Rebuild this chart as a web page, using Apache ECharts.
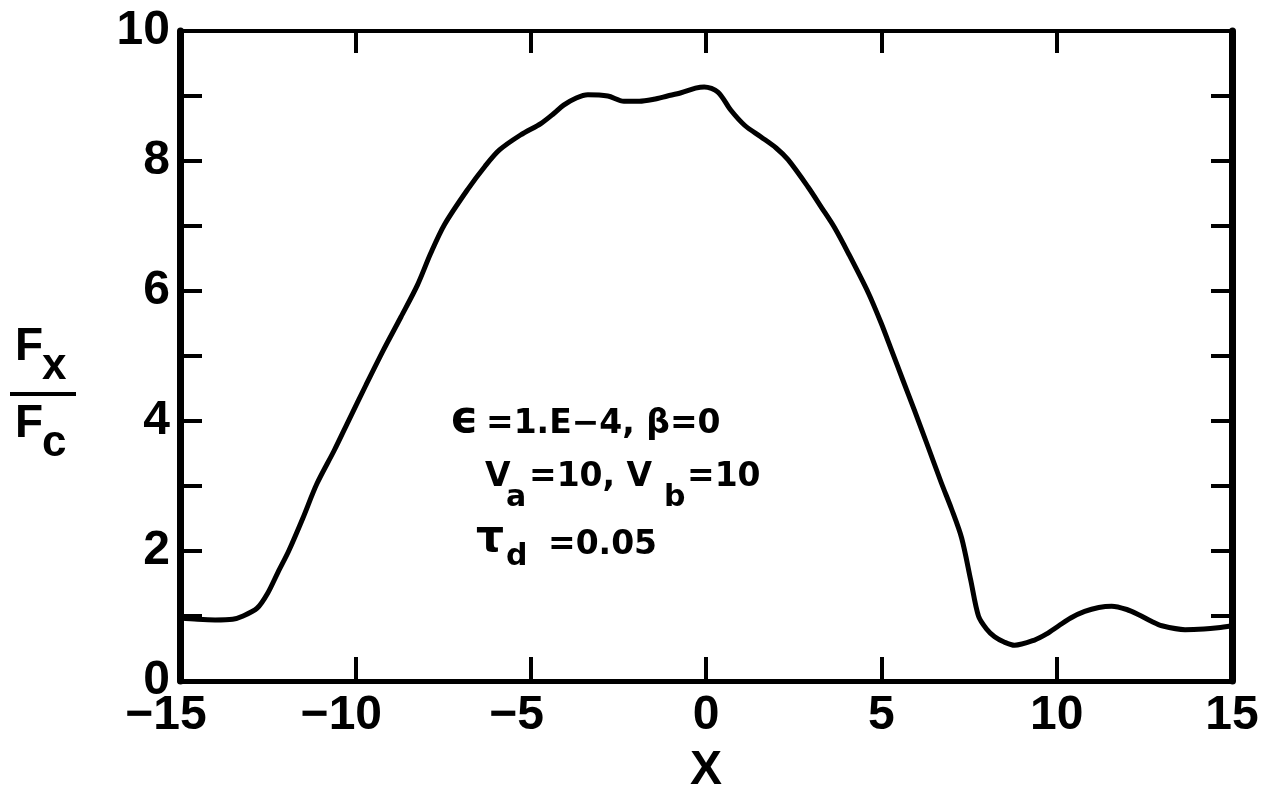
<!DOCTYPE html>
<html>
<head>
<meta charset="utf-8">
<script src="https://cdn.jsdelivr.net/npm/echarts@6/dist/echarts.min.js"></script>
<style>
html,body{margin:0;padding:0;background:#fff;}
#chart{width:1265px;height:798px;}
</style>
</head>
<body>
<div id="chart"></div>
<script>
// ---- data ----
const xValues = [-15, -14.5, -14, -13.5, -13.2, -12.8, -12.5, -12.2, -11.9, -11.5, -11.1, -10.6, -10.17, -9.7, -9.2, -8.7, -8.23, -7.85, -7.46, -6.8, -6.3, -5.89, -5.29, -4.7, -4.34, -4.06, -3.7, -3.37, -2.8, -2.34, -1.9, -1.49, -1.1, -0.71, -0.3, -0.05, 0.34, 0.71, 1.1, 1.57, 2.0, 2.34, 2.91, 3.3, 3.66, 4.06, 4.63, 5.0, 5.29, 5.6, 5.94, 6.3, 6.71, 7.0, 7.29, 7.55, 7.77, 8.0, 8.23, 8.5, 8.8, 9.37, 9.7, 10.06, 10.4, 10.8, 11.2, 11.57, 12.0, 12.34, 12.7, 13.0, 13.66, 14.2, 14.6, 15];
const fValues = [0.97, 0.95, 0.94, 0.95, 1.0, 1.12, 1.35, 1.68, 2.0, 2.5, 3.03, 3.55, 4.03, 4.55, 5.09, 5.6, 6.09, 6.58, 7.02, 7.56, 7.92, 8.17, 8.4, 8.58, 8.73, 8.86, 8.97, 9.02, 9.0, 8.92, 8.92, 8.95, 9.0, 9.05, 9.12, 9.14, 9.06, 8.78, 8.55, 8.37, 8.2, 8.02, 7.6, 7.28, 6.98, 6.58, 5.97, 5.5, 5.09, 4.65, 4.17, 3.65, 3.05, 2.65, 2.2, 1.55, 1.0, 0.8, 0.68, 0.6, 0.55, 0.63, 0.72, 0.85, 0.97, 1.07, 1.13, 1.15, 1.1, 1.02, 0.92, 0.85, 0.79, 0.8, 0.82, 0.85];
const xRange = [-15, 15];
const xTickStep = 5;
const yRange = [0, 10];
const yTickStep = 1;
const yLabelEvery = 2;
const xTitle = 'X';
const yTitleTop = ['F', 'x'];
const yTitleBottom = ['F', 'c'];
const noteLine1 = ['ϵ', '=1.E−4, β=0'];
const noteLine2 = ['V', 'a', '=10, V', 'b', '=10'];
const noteLine3 = ['τ', 'd', '=0.05'];

// ---- chart ----
const chart = echarts.init(document.getElementById('chart'), null, {renderer: 'canvas'});
const seriesData = xValues.map((x, i) => [x, fValues[i]]);
const tickFont = {fontFamily: 'Liberation Sans', fontWeight: 'bold', fontSize: 48, color: '#000'};
const noteFont = 'DejaVu Sans';

function xLabel(v) {
  if (v < 0) return '−' + Math.abs(v) + '{sp| }';
  return String(v);
}
function note(x, y, text, size) {
  return {type: 'text', x: x, y: y, style: {text: text, font: 'bold ' + size + 'px "' + noteFont + '"', fill: '#000', verticalAlign: 'middle'}};
}

const option = {
  animation: false,
  backgroundColor: '#fff',
  grid: {left: 180, right: 33, top: 31, bottom: 117, containLabel: false, outerBoundsMode: 'none'},
  xAxis: [
    {
      type: 'value', position: 'bottom', min: xRange[0], max: xRange[1], interval: xTickStep,
      axisLine: {show: true, onZero: false, lineStyle: {color: '#000', width: 5}},
      axisTick: {show: true, inside: true, length: 24, lineStyle: {color: '#000', width: 4}},
      axisLabel: Object.assign({margin: 11, lineHeight: 48, formatter: xLabel,
        rich: {sp: {width: 28, fontSize: 48}}}, tickFont),
      splitLine: {show: false},
      name: xTitle, nameLocation: 'middle', nameGap: 90,
      nameTextStyle: {fontFamily: 'Liberation Sans', fontWeight: 'bold', fontSize: 48, color: '#000', verticalAlign: 'middle'}
    },
    {
      type: 'value', position: 'top', min: xRange[0], max: xRange[1], interval: xTickStep,
      axisLine: {show: true, onZero: false, lineStyle: {color: '#000', width: 4}},
      axisTick: {show: true, inside: true, length: 22, lineStyle: {color: '#000', width: 4}},
      axisLabel: {show: false},
      splitLine: {show: false}
    }
  ],
  yAxis: [
    {
      type: 'value', position: 'left', min: yRange[0], max: yRange[1], interval: yTickStep,
      axisLine: {show: true, onZero: false, lineStyle: {color: '#000', width: 7}},
      axisTick: {show: true, inside: true, length: 22, lineStyle: {color: '#000', width: 4}},
      axisLabel: Object.assign({margin: 10, formatter: v => (v % yLabelEvery === 0 ? String(v) : '')}, tickFont),
      splitLine: {show: false}
    },
    {
      type: 'value', position: 'right', min: yRange[0], max: yRange[1], interval: yTickStep,
      axisLine: {show: true, onZero: false, lineStyle: {color: '#000', width: 7}},
      axisTick: {show: true, inside: true, length: 21, lineStyle: {color: '#000', width: 4}},
      axisLabel: {show: false},
      splitLine: {show: false}
    }
  ],
  series: [{
    type: 'line', xAxisIndex: 0, yAxisIndex: 0,
    data: seriesData, showSymbol: false, symbol: 'none', smooth: 0.3,
    lineStyle: {color: '#000', width: 5, cap: 'round', join: 'round'}
  }],
  graphic: [
    // y-axis title as a fraction F_x / F_c
    {type: 'text', x: 15, y: 347, style: {text: yTitleTop[0], font: 'bold 46px "Liberation Sans"', fill: '#000', verticalAlign: 'middle'}},
    {type: 'text', x: 42, y: 367, style: {text: yTitleTop[1], font: 'bold 44px "Liberation Sans"', fill: '#000', verticalAlign: 'middle'}},
    {type: 'line', shape: {x1: 10, y1: 394, x2: 76, y2: 394}, style: {stroke: '#000', lineWidth: 4}},
    {type: 'text', x: 15, y: 424, style: {text: yTitleBottom[0], font: 'bold 46px "Liberation Sans"', fill: '#000', verticalAlign: 'middle'}},
    {type: 'text', x: 42, y: 444, style: {text: yTitleBottom[1], font: 'bold 44px "Liberation Sans"', fill: '#000', verticalAlign: 'middle'}},
    // annotation
    note(450, 421, noteLine1[0], 44),
    note(486, 424, noteLine1[1], 33),
    note(485, 477, noteLine2[0], 33),
    note(506, 498, noteLine2[1], 30),
    note(529, 477, noteLine2[2], 33),
    note(664, 498, noteLine2[3], 30),
    note(687, 477, noteLine2[4], 33),
    note(476, 540, noteLine3[0], 44),
    note(506, 557, noteLine3[1], 30),
    note(548, 545, noteLine3[2], 33)
  ]
};
chart.setOption(option);
</script>
</body>
</html>
